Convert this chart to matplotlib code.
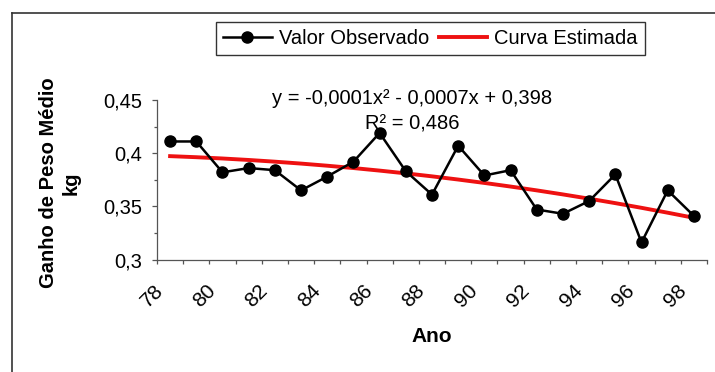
import matplotlib

matplotlib.use("Agg")

import matplotlib.pyplot as plt
import numpy as np
from matplotlib.lines import Line2D
from matplotlib.transforms import ScaledTranslation

plt.rcParams["font.family"] = ["Liberation Sans", "DejaVu Sans"]

years = list(range(78, 99))
ganho = [0.411, 0.411, 0.382, 0.386, 0.384, 0.365, 0.378, 0.392, 0.419, 0.383, 0.361,
         0.407, 0.379, 0.384, 0.347, 0.343, 0.355, 0.380, 0.316, 0.365, 0.341]
# fitted quadratic as printed on the chart (x = 1..21)
trend_coef = [-0.0001, -0.0007, 0.398]
eq_text = "y = -0,0001x\u00b2 - 0,0007x + 0,398"
r2_text = "R\u00b2 = 0,486"
yticks = [0.3, 0.35, 0.4, 0.45]
ytick_labels = ["0,3", "0,35", "0,4", "0,45"]

W, H = 715, 372
fig = plt.figure(figsize=(W / 100, H / 100), dpi=100)
ax = fig.add_axes([157 / W, 1 - 259.5 / H, 550 / W, 159.5 / H])

n = len(years)
pos = np.arange(n) + 0.5
trend = np.polyval(trend_coef, np.arange(1, n + 1))

ax.plot(pos, ganho, color="black", lw=1.8, marker="o", ms=8, zorder=3,
        label="Valor Observado")
ax.plot(pos, trend, color="#ee1111", lw=2.8, zorder=2, label="Curva Estimada")

ax.set_xlim(0, n)
ax.set_ylim(0.3, 0.45)
for s in ("top", "right"):
    ax.spines[s].set_visible(False)
for s in ("left", "bottom"):
    ax.spines[s].set_color("#555555")
    ax.spines[s].set_linewidth(0.9)

ax.set_yticks(yticks)
ax.set_yticklabels(ytick_labels, fontsize=14.5)
ax.set_yticks([0.325, 0.375, 0.425], minor=True)
ax.tick_params(axis="y", which="major", length=3.6, width=0.9, pad=7, color="#555555")
ax.tick_params(axis="y", which="minor", length=2, width=0.9, color="#555555")

# category boundaries get ticks, every other category center gets a label
ax.set_xticks(np.arange(n + 1))
ax.set_xticklabels([])
ax.tick_params(axis="x", which="major", length=3, width=0.9, color="#555555")
lab_pos = pos[::2]
ax.set_xticks(lab_pos, minor=True)
ax.set_xticklabels([str(y) for y in years[::2]], minor=True, fontsize=15)
ax.tick_params(axis="x", which="minor", length=0, pad=20)
shift = ScaledTranslation(-0.1, 0, fig.dpi_scale_trans)
for lab in ax.get_xticklabels(minor=True):
    lab.set_rotation(45)
    lab.set_ha("right")
    lab.set_va("center")
    lab.set_rotation_mode("anchor")
    lab.set_transform(lab.get_transform() + shift)

ax.text(0.4636, 1.0125, eq_text, transform=ax.transAxes, ha="center", va="center",
        fontsize=14.5)
ax.text(0.4636, 0.85, r2_text, transform=ax.transAxes, ha="center", va="center",
        fontsize=14.5)

fig.text(60 / W, 1 - 183 / H, "Ganho de Peso Médio\nkg", rotation=90, ha="center",
         va="center", ma="center", fontsize=14.5, fontweight="bold", linespacing=1.2)
fig.text(432 / W, 1 - 337 / H, "Ano", ha="center", va="center", fontsize=15,
         fontweight="bold")

leg = fig.legend(loc="center", bbox_to_anchor=(430.5 / W, 1 - 38.5 / H), ncol=2,
                 fontsize=14.5, frameon=True, fancybox=False, edgecolor="black",
                 handlelength=2.4, handletextpad=0.35, columnspacing=0.5,
                 borderpad=0.35, borderaxespad=0)
leg.get_frame().set_linewidth(1.0)

# outer chart frame (right and bottom edges fall outside the picture)
fig.add_artist(Line2D([12 / W, 1], [1 - 13 / H, 1 - 13 / H], color="#333333", lw=1.2))
fig.add_artist(Line2D([12 / W, 12 / W], [0, 1 - 13 / H], color="#333333", lw=1.2))

fig.savefig("out.png", dpi=100)
